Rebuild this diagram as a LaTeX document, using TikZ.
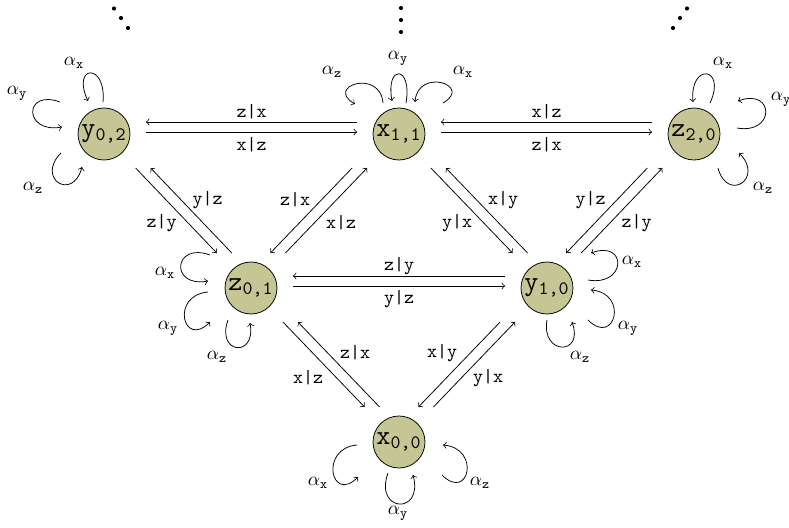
\documentclass[tikz,border=0pt]{standalone}
\usepackage{amsmath}
\usetikzlibrary{calc}
\definecolor{nodefill}{RGB}{198,197,148}
\tikzset{
  st/.style={circle,draw=black,fill=nodefill,minimum size=27.3pt,inner sep=0pt,font=\Large},
  tr/.style={->,shorten >=22pt,shorten <=22pt},
  dg/.style={->},
  lp/.style={->},
  lab/.style={inner sep=0pt,font=\normalsize},
}
\newcommand\st[2]{$\mathtt{#1}_{\text{\ttfamily #2}}$}
% horizontal pair: #1 left node, #2 right node
\newcommand\pairedge[6]{%
  \draw[tr] ($(#1c)!2.625pt!-90:(#2c)$) -- ($(#2c)!2.625pt!90:(#1c)$);
  \draw[tr] ($(#2c)!2.625pt!-90:(#1c)$) -- ($(#1c)!2.625pt!90:(#2c)$);
  \node[lab] at ($(#1)!0.5!(#2)+(#4)$) {\texttt{#3}};
  \node[lab] at ($(#1)!0.5!(#2)+(#6)$) {\texttt{#5}};
}
% diagonal pair: #1 upper node, #2 lower node
\newcommand\diagedge[6]{%
  \draw[dg] ($(#1c)!0.2662!(#2c)+(-7.5,0)$) -- ($(#1c)!0.8182!(#2c)+(-7.5,0)$);
  \draw[dg] ($(#1c)!0.8182!(#2c)+(7.5,0)$) -- ($(#1c)!0.2662!(#2c)+(7.5,0)$);
  \node[lab] at ($(#1)!0.5!(#2)+(#4)$) {\texttt{#3}};
  \node[lab] at ($(#1)!0.5!(#2)+(#6)$) {\texttt{#5}};
}
\newcommand\sloop[8]{%
  \draw[lp] ($(#1)+(#2)$) to[out=#4,in=#5,distance=#6] ($(#1)+(#3)$);
  \node[lab] at ($(#1)+(#8)$) {$\alpha_{\mathtt{#7}}$};
}
\begin{document}
\begin{tikzpicture}[x=0.525pt,y=0.525pt]
\useasboundingbox (0,0) rectangle (789,527);
% nodes
\node[st] (y02) at (104,393) {\st{y}{0,2}};
\node[st] (x11) at (399,393) {\st{x}{1,1}};
\node[st] (z20) at (694,393) {\st{z}{2,0}};
\node[st] (z01) at (251,239) {\st{z}{0,1}};
\node[st] (y10) at (547,239) {\st{y}{1,0}};
\node[st] (x00) at (399,85) {\st{x}{0,0}};
\foreach \n in {y02,x11,z20,z01,y10,x00}{\coordinate (\n c) at ($(\n)+(0,7)$);}
% transitions
\pairedge{y02}{x11}{x|z}{0,-11}{z|x}{0,22}
\pairedge{x11}{z20}{z|x}{0,-11}{x|z}{0,22}
\pairedge{z01}{y10}{y|z}{0,-11}{z|y}{0,22}
\diagedge{y02}{z01}{z|y}{-16,-12}{y|z}{30,11}
\diagedge{x11}{z01}{z|x}{-30,11}{x|z}{16,-12}
\diagedge{x11}{y10}{y|x}{-16,-12}{x|y}{30,11}
\diagedge{z20}{y10}{y|z}{-30,11}{z|y}{16,-12}
\diagedge{z01}{x00}{x|z}{-17,-13}{z|x}{30,12}
\diagedge{y10}{x00}{x|y}{-31,12}{y|x}{15,-13}
% self loops
\sloop{y02}{-1,32}{-16,33}{85}{115}{21pt}{x}{-30,71}
\sloop{y02}{-44,32}{-42,7}{160}{190}{20.5pt}{y}{-87,41}
\sloop{y02}{-43,-19}{-22,-33}{225}{255}{18.9pt}{z}{-71,-54}
\sloop{x11}{-16,31}{-44,30}{95}{150}{18.4pt}{z}{-67,62}
\sloop{x11}{7,31}{-7,33}{80}{100}{20pt}{y}{-1,76}
\sloop{x11}{44,31}{16,32}{30}{85}{18.4pt}{x}{64,62}
\sloop{z20}{16,31}{-1,32}{65}{95}{21pt}{x}{29,71}
\sloop{z20}{43,6}{44,33}{-10}{20}{20.5pt}{y}{87,35}
\sloop{z20}{24,-34}{45,-19}{-75}{-45}{18.9pt}{z}{69,-54}
\sloop{z01}{-41,33}{-43,7}{160}{190}{20.5pt}{x}{-86,15}
\sloop{z01}{-43,-4}{-41,-34}{185}{225}{20pt}{y}{-83,-40}
\sloop{z01}{-23,-32}{-1,-35}{250}{280}{18.9pt}{z}{-34,-69}
\sloop{y10}{41,8}{44,35}{-10}{20}{20.5pt}{x}{85,26}
\sloop{y10}{41,-32}{44,-2}{-45}{-5}{20pt}{y}{81,-40}
\sloop{y10}{0,-32}{25,-34}{-100}{-70}{18.9pt}{z}{33,-69}
\sloop{x00}{-42,-3}{-41,-35}{185}{225}{20pt}{x}{-81,-41}
\sloop{x00}{-11,-31}{14,-33}{250}{285}{22pt}{y}{-1,-71}
\sloop{x00}{43,-33}{44,-3}{-45}{-5}{20pt}{z}{81,-41}
% continuation dots
\fill (114,518.5) circle (1.1pt) (121,509) circle (1.1pt) (128,499) circle (1.1pt);
\fill (401,519) circle (1.1pt) (401,507) circle (1.1pt) (401,495) circle (1.1pt);
\fill (687,518.5) circle (1.1pt) (680,509) circle (1.1pt) (673,499) circle (1.1pt);
\end{tikzpicture}
\end{document}
